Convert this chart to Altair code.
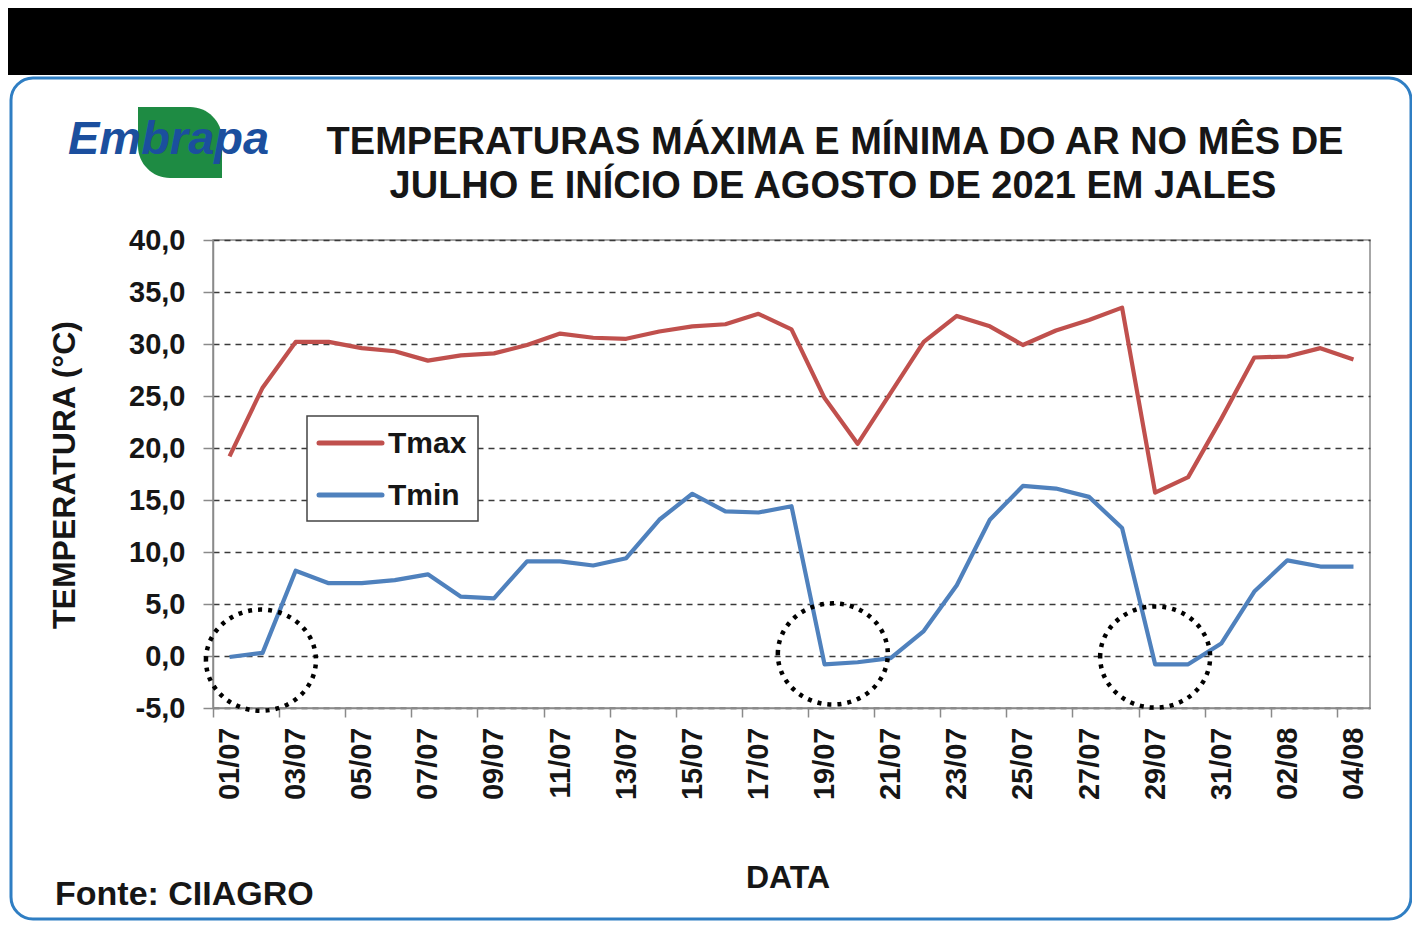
import altair as alt
import pandas as pd

# ---- data ----
dates = ['01/07', '02/07', '03/07', '04/07', '05/07', '06/07', '07/07', '08/07', '09/07', '10/07',
         '11/07', '12/07', '13/07', '14/07', '15/07', '16/07', '17/07', '18/07', '19/07', '20/07',
         '21/07', '22/07', '23/07', '24/07', '25/07', '26/07', '27/07', '28/07', '29/07', '30/07',
         '31/07', '01/08', '02/08', '03/08', '04/08']
tmax = [19.2, 25.8, 30.2, 30.2, 29.6, 29.3, 28.4, 28.9, 29.1, 29.9,
        31.0, 30.6, 30.5, 31.2, 31.7, 31.9, 32.9, 31.4, 24.8, 20.4,
        25.3, 30.2, 32.7, 31.7, 29.9, 31.3, 32.3, 33.5, 15.7, 17.2,
        22.8, 28.7, 28.8, 29.6, 28.5]
tmin = [-0.1, 0.3, 8.2, 7.0, 7.0, 7.3, 7.85, 5.7, 5.55, 9.1,
        9.1, 8.7, 9.4, 13.1, 15.6, 13.9, 13.8, 14.4, -0.8, -0.6,
        -0.2, 2.4, 6.8, 13.1, 16.35, 16.1, 15.3, 12.3, -0.8, -0.8,
        1.2, 6.2, 9.2, 8.6, 8.6]
series = ['Tmax', 'Tmin']
colors = ['#C0504D', '#4F81BD']
y_ticks = [-5, 0, 5, 10, 15, 20, 25, 30, 35, 40]
# highlighted frost episodes (day index, temperature)
circle_day = [0.95, 18.25, 28.0]
circle_temp = [-0.4, 0.2, -0.1]

title1 = 'TEMPERATURAS MÁXIMA E MÍNIMA DO AR NO MÊS DE'
title2 = 'JULHO E INÍCIO DE AGOSTO  DE 2021 EM JALES'

FONT = 'Liberation Sans'
TXT = '#161616'

n = len(dates)
df = pd.DataFrame({
    'day': list(range(n)) * 2,
    'temp': tmax + tmin,
    'serie': ['Tmax'] * n + ['Tmin'] * n,
})
circ = pd.DataFrame({'cx': circle_day, 'cy': circle_temp})
one = pd.DataFrame({'a': [0]})

W, H = 1157, 468
step = W / n

label_arr = '[' + ','.join("'%s'" % d for d in dates) + ']'

xscale = alt.Scale(domain=[-0.5, n - 0.5], nice=False, zero=False)
yscale = alt.Scale(domain=[-5, 40], nice=False, zero=False)

lines = alt.Chart(df).mark_line(strokeWidth=4.2, strokeJoin='round').encode(
    x=alt.X('day:Q', scale=xscale, axis=alt.Axis(
        title=None, values=list(range(0, n, 2)), grid=False,
        tickOffset=-step / 2, labelOffset=step / 2,
        labelExpr=label_arr + '[datum.value]',
        labelAngle=-90, labelFont=FONT, labelFontSize=29, labelFontWeight='bold',
        labelColor=TXT, labelPadding=10, tickSize=9, tickColor='#8a8a8a', tickWidth=1.5,
        domainColor='#8a8a8a', domainWidth=1.5, labelOverlap=False, labelFlush=False)),
    y=alt.Y('temp:Q', scale=yscale, axis=alt.Axis(
        title=None, values=y_ticks,
        labelExpr="replace(replace(format(datum.value, '.1f'), '.', ','), '\u2212', '-')",
        labelFont=FONT, labelFontSize=29, labelFontWeight='bold', labelColor=TXT,
        labelPadding=18, tickSize=10, tickColor='#8a8a8a', tickWidth=1.5,
        domainColor='#8a8a8a', domainWidth=1.5,
        grid=True, gridDash=[6, 5], gridColor='#3a3a3a', gridWidth=1.5)),
    color=alt.Color('serie:N', scale=alt.Scale(domain=series, range=colors), legend=None),
)

ellipse = 'M-1,0 A1,0.92 0 1,1 1,0 A1,0.92 0 1,1 -1,0 Z'
circles = alt.Chart(circ).mark_point(
    shape=ellipse, size=12100, filled=False, color='black',
    strokeWidth=4.5, strokeDash=[4, 6], opacity=1
).encode(x=alt.X('cx:Q', scale=xscale), y=alt.Y('cy:Q', scale=yscale))

black_band = alt.Chart(one).mark_rect(color='black').encode(
    x=alt.value(-210), x2=alt.value(1210), y=alt.value(-240), y2=alt.value(-165))
frame = alt.Chart(one).mark_rect(fill='white', fillOpacity=0, stroke='#2F7EC3',
                                 strokeWidth=3, cornerRadius=22).encode(
    x=alt.value(-202), x2=alt.value(1198), y=alt.value(-162), y2=alt.value(679))

leaf = alt.Chart(one).mark_rect(color='#1E8B43', cornerRadiusTopRight=32,
                                cornerRadiusBottomLeft=32).encode(
    x=alt.value(-75), x2=alt.value(9), y=alt.value(-133), y2=alt.value(-62))
logo = alt.Chart(one).mark_text(text='Embrapa', font=FONT, fontSize=47, fontWeight='bold',
                                fontStyle='italic', color='#1B4F9E', align='left',
                                baseline='alphabetic').encode(
    x=alt.value(-145), y=alt.value(-86))

t1 = alt.Chart(one).mark_text(text=title1, font=FONT, fontSize=38, fontWeight='bold',
                              color=TXT, align='center', baseline='alphabetic').encode(
    x=alt.value(622), y=alt.value(-86))
t2 = alt.Chart(one).mark_text(text=title2, font=FONT, fontSize=38, fontWeight='bold',
                              color=TXT, align='center', baseline='alphabetic').encode(
    x=alt.value(620), y=alt.value(-42))

ytitle = alt.Chart(one).mark_text(text='TEMPERATURA (°C)', font=FONT, fontSize=32,
                                  fontWeight='bold', color=TXT, angle=270,
                                  align='center', baseline='middle').encode(
    x=alt.value(-148), y=alt.value(235))
xtitle = alt.Chart(one).mark_text(text='DATA', font=FONT, fontSize=32, fontWeight='bold',
                                  color=TXT, align='center', baseline='alphabetic').encode(
    x=alt.value(575), y=alt.value(648))
source = alt.Chart(one).mark_text(text='Fonte: CIIAGRO', font=FONT, fontSize=34,
                                  fontWeight='bold', color=TXT, align='left',
                                  baseline='alphabetic').encode(
    x=alt.value(-158), y=alt.value(665))

leg_box = alt.Chart(one).mark_rect(fill='white', stroke='#444444', strokeWidth=1.5).encode(
    x=alt.value(94), x2=alt.value(265), y=alt.value(176), y2=alt.value(281))
leg_l1 = alt.Chart(one).mark_rule(color=colors[0], strokeWidth=5, strokeCap='round').encode(
    x=alt.value(106), x2=alt.value(169), y=alt.value(203))
leg_l2 = alt.Chart(one).mark_rule(color=colors[1], strokeWidth=5, strokeCap='round').encode(
    x=alt.value(106), x2=alt.value(169), y=alt.value(255))
leg_t1 = alt.Chart(one).mark_text(text=series[0], font=FONT, fontSize=30, fontWeight='bold',
                                  color=TXT, align='left', baseline='middle').encode(
    x=alt.value(175), y=alt.value(204))
leg_t2 = alt.Chart(one).mark_text(text=series[1], font=FONT, fontSize=30, fontWeight='bold',
                                  color=TXT, align='left', baseline='middle').encode(
    x=alt.value(175), y=alt.value(256))

chart = alt.layer(
    black_band, frame, leaf, logo, t1, t2, ytitle, xtitle, source,
    lines, circles, leg_box, leg_l1, leg_l2, leg_t1, leg_t2
).properties(
    width=W, height=H,
    padding={'left': 205, 'top': 232, 'right': 42, 'bottom': 213},
    autosize=alt.AutoSizeParams(type='none'),
).configure_view(stroke='#8a8a8a', strokeWidth=1.5)

chart.save('out.html', embed_options={'renderer': 'svg', 'actions': False})
